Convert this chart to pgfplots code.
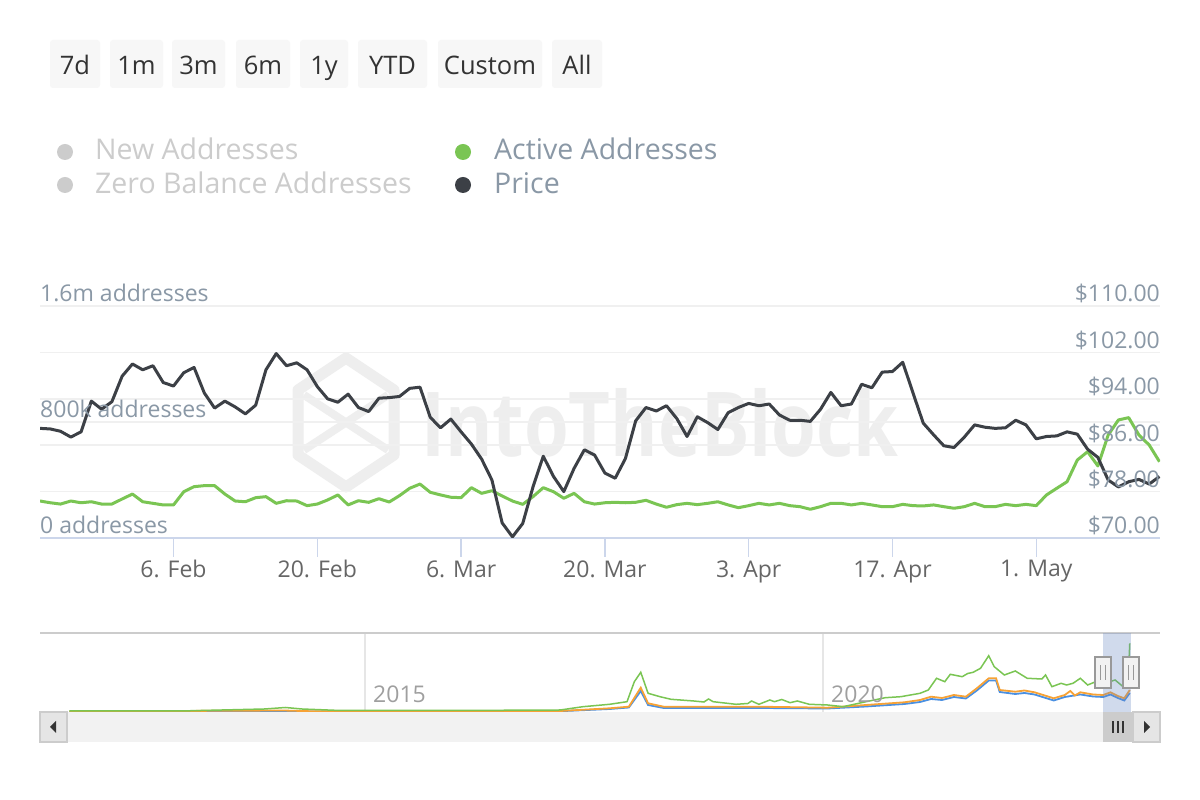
\documentclass[border=0pt]{standalone}
\usepackage{pgfplots}
\usepackage{pgfplotstable}
\pgfplotsset{compat=1.18}
\usepackage{fontspec}
\setmainfont{Open Sans}

\definecolor{cgreen}{HTML}{7AC553}
\definecolor{cprice}{HTML}{3C4046}
\definecolor{cgrid}{HTML}{F0F0F0}
\definecolor{caxis}{HTML}{CCD6EB}
\definecolor{clab}{HTML}{8A98A6}
\definecolor{cxlab}{HTML}{666666}
\definecolor{cbtn}{HTML}{F7F7F7}
\definecolor{cbtntext}{HTML}{333333}
\definecolor{chidden}{HTML}{CCCCCC}
\definecolor{cwater}{HTML}{EEEEEE}
\definecolor{cnavline}{HTML}{CCCCCC}
\definecolor{cnavgrid}{HTML}{E6E6E6}
\definecolor{cscroll}{HTML}{F2F2F2}
\definecolor{cmask}{HTML}{6685C2}
\definecolor{corange}{HTML}{F7A235}
\definecolor{cblue}{HTML}{4A90E2}

\newcommand{\axfont}{\fontsize{23bp}{27bp}\selectfont}
\newcommand{\btnfont}{\fontsize{25.5bp}{30bp}\selectfont}
\newcommand{\legfont}{\fontsize{28.5bp}{33bp}\selectfont}

% day of year 2023, price in $, active addresses in thousands
\pgfplotstableread{
day price active
24 88.9 255
25 88.8 243
26 88.4 234
27 87.4 255
28 88.3 243
29 93.6 250
30 92.2 234
31 93.5 234
32 97.9 269
33 100.0 303
34 99.0 250
35 99.7 239
36 96.8 228
37 96.2 228
38 98.5 319
39 99.4 354
40 95.0 361
41 92.4 361
42 93.6 303
43 92.6 255
44 91.4 250
45 92.9 278
46 99.0 285
47 101.8 239
48 99.7 257
49 100.2 255
50 99.0 223
51 96.1 234
52 94.0 262
53 93.4 297
54 94.8 228
55 92.5 257
56 91.8 246
57 94.1 271
58 94.2 248
59 94.4 292
60 95.8 343
61 96.0 372
62 90.8 315
63 89.0 297
64 90.5 281
65 88.3 278
66 86.2 347
67 83.6 308
68 80.0 326
69 72.6 290
70 70.2 255
71 72.5 232
72 78.8 285
73 84.1 347
74 80.6 319
75 78.0 274
76 82.0 308
77 85.2 250
78 84.3 234
79 81.2 243
80 80.3 246
81 83.7 243
82 90.2 246
83 92.5 260
84 91.9 234
85 92.8 212
86 90.6 230
87 87.5 239
88 90.9 230
89 89.9 239
90 88.7 250
91 91.6 228
92 92.5 209
93 93.2 223
94 92.8 239
95 93.1 228
96 91.2 239
97 90.3 223
98 90.3 216
99 90.1 198
100 92.2 216
101 95.1 239
102 92.8 239
103 93.1 228
104 96.5 239
105 95.9 228
106 98.6 216
107 98.7 216
108 100.3 232
109 95.0 223
110 89.8 221
111 87.8 228
112 85.9 216
113 85.6 205
114 87.4 216
115 89.5 239
116 89.1 216
117 88.9 216
118 89.0 232
119 90.3 223
120 89.5 232
121 87.1 223
122 87.5 297
123 87.6 343
124 88.3 388
125 87.9 538
126 85.3 595
127 83.9 497
128 80.0 710
129 78.8 814
130 79.7 830
131 80.1 710
132 79.3 641
133 80.6 526
}\maindata

\begin{document}
\begin{tikzpicture}[x=1bp,y=1bp]
\fill[white] (0,0) rectangle (1200,800);

% range buttons
\foreach \a/\b/\t in {50/100/7d,110/163/1m,172/225/3m,236/290/6m,300/348/1y,358/427/YTD,438/542/Custom,552/602/All}{
  \fill[cbtn, rounded corners=3bp] (\a,712) rectangle (\b,760);
  \node[anchor=base, text=cbtntext, font=\btnfont, inner sep=0pt] at ({(\a+\b)/2},725) {\t};
}

% legend
\fill[chidden] (65,648) circle (8);
\fill[chidden] (65,615) circle (8);
\fill[cgreen] (463,648) circle (8);
\fill[cprice] (463,615) circle (8);
\node[anchor=base west, text=chidden, font=\legfont, inner sep=0pt] at (95,640) {New Addresses};
\node[anchor=base west, text=chidden, font=\legfont, inner sep=0pt] at (95,606) {Zero Balance Addresses};
\node[anchor=base west, text=clab, font=\legfont, inner sep=0pt] at (494,640) {Active Addresses};
\node[anchor=base west, text=clab, font=\legfont, inner sep=0pt] at (494,606) {Price};

% watermark
\draw[cwater, line width=11bp, line join=round] (346,442) -- (394,410) -- (394,345) -- (346,313) -- (298,345) -- (298,410) -- cycle;
\draw[cwater, line width=8bp] (304,405) -- (388,350) (388,405) -- (304,350);
\node[text=cwater, inner sep=0pt] at (660,377) {\resizebox{477bp}{68bp}{\bfseries IntoTheBlock}};

% main chart, left scale (addresses)
\begin{axis}[
  at={(40bp,262bp)}, anchor=south west,
  width=1120bp, height=232bp, scale only axis,
  xmin=24, xmax=133.05, ymin=0, ymax=1600,
  axis x line*=bottom, axis y line*=left,
  y axis line style={draw=none},
  x axis line style={draw=caxis, line width=1.5bp},
  xtick={37,51,65,79,93,107,121},
  xticklabels={6. Feb,20. Feb,6. Mar,20. Mar,3. Apr,17. Apr,1. May},
  tick align=outside, major tick length=19bp,
  xtick style={draw=caxis, line width=1.5bp},
  xticklabel style={font=\axfont, text=cxlab},
  ytick={0,320,640,800,960,1280,1600}, yticklabels={},
  ytick style={draw=none},
  ymajorgrids, major grid style={draw=cgrid, line width=1.5bp},
]
\addplot[cgreen, line width=3bp, line join=round] table[x=day, y=active] {\maindata};
\end{axis}

% main chart, right scale (price)
\begin{axis}[
  at={(40bp,262bp)}, anchor=south west,
  width=1120bp, height=232bp, scale only axis,
  xmin=24, xmax=133.05, ymin=70, ymax=110,
  axis lines=none,
]
\addplot[cprice, line width=3bp, line join=round] table[x=day, y=price] {\maindata};
\end{axis}

% axis labels inside the plot
\begin{scope}[every node/.style={font=\axfont, text=clab, inner sep=0pt}]
\node[anchor=base west] at (40,498) {1.6m addresses};
\node[anchor=base west] at (40,382) {800k addresses};
\node[anchor=base west] at (40,266) {0 addresses};
\node[anchor=base east] at (1160,498) {\$110.00};
\node[anchor=base east] at (1160,451.6) {\$102.00};
\node[anchor=base east] at (1160,405.2) {\$94.00};
\node[anchor=base east] at (1160,358.8) {\$86.00};
\node[anchor=base east] at (1160,312.4) {\$78.00};
\node[anchor=base east] at (1160,266) {\$70.00};
\end{scope}

% navigator
\begin{axis}[
  at={(40bp,88bp)}, anchor=south west,
  width=1120bp, height=79bp, scale only axis,
  xmin=2011.45, xmax=2023.68, ymin=0, ymax=79,
  axis line style={draw=none}, tick style={draw=none},
  xtick={2015,2020}, xticklabels={}, ytick=\empty,
  xmajorgrids, major grid style={draw=cnavgrid, line width=1.5bp},
]
\addplot[cblue, line width=1.8bp] coordinates {
(2011.77,0.3) (2017.13,0.8) (2017.67,3) (2017.88,4.5) (2018.01,21) (2018.09,7)
(2018.26,4) (2018.80,4) (2019.30,4) (2020.05,3.5) (2020.47,5.5) (2020.89,8)
(2021.06,10) (2021.18,13) (2021.30,12) (2021.43,15) (2021.56,13.5) (2021.68,21.5) (2021.81,31.5)
(2021.89,31.5) (2021.93,20) (2022.10,18) (2022.20,19) (2022.31,17.5) (2022.52,11.5) (2022.64,15)
(2022.81,17.5) (2022.95,15.5) (2023.06,15) (2023.14,17.5) (2023.22,14) (2023.29,11.5) (2023.35,19)};
\addplot[corange, line width=1.8bp] coordinates {
(2011.77,0.5) (2014.10,1.5) (2014.40,0.8) (2017.13,1) (2017.67,3.7) (2017.88,5.3)
(2018.01,24.3) (2018.09,8.7) (2018.26,5.3) (2018.80,5.3) (2019.30,5.3) (2020.05,4.3)
(2020.47,7) (2020.89,9.7) (2021.06,12) (2021.18,15.3) (2021.30,14) (2021.43,17) (2021.56,15.3)
(2021.68,23.7) (2021.81,33.7) (2021.89,33.7) (2021.93,22) (2022.10,20.3) (2022.20,21.5) (2022.31,19.7)
(2022.52,13.7) (2022.64,17) (2022.70,21) (2022.75,16.5) (2022.81,19.7) (2022.95,17.5) (2023.06,17)
(2023.14,19.7) (2023.22,16) (2023.29,13.7) (2023.35,22)};
\addplot[cgreen, line width=1.5bp] coordinates {
(2011.77,1) (2012.98,1) (2013.90,3) (2014.13,4.5) (2014.31,3) (2014.73,1.5)
(2015.93,1.5) (2017.13,2) (2017.38,5.3) (2017.67,7.7) (2017.86,10.3) (2017.94,30.3)
(2018.01,39.7) (2018.09,18.7) (2018.22,15.3) (2018.34,12.7) (2018.59,11) (2018.70,10)
(2018.75,13) (2018.80,10.3) (2019.05,7.7) (2019.18,8.5) (2019.22,11) (2019.30,7.7)
(2019.42,12) (2019.47,10.3) (2019.55,12.5) (2019.64,9.3) (2019.72,11) (2019.85,7.7)
(2020.05,7) (2020.22,5.3) (2020.47,10.3) (2020.68,14.3) (2020.85,15.3) (2021.06,18.7)
(2021.15,22) (2021.24,33.7) (2021.33,30.3) (2021.39,37.7) (2021.52,35.3) (2021.58,38.5)
(2021.64,39.7) (2021.72,43.7) (2021.81,56.3) (2021.87,45.3) (2021.98,37) (2022.10,41)
(2022.23,33.7) (2022.39,33) (2022.43,37) (2022.50,25.3) (2022.60,28.7) (2022.66,27)
(2022.73,28.7) (2022.81,33.7) (2022.89,27) (2022.97,30) (2023.06,27) (2023.12,30)
(2023.19,32) (2023.29,24.3) (2023.33,27) (2023.35,68.7)};
\end{axis}

\draw[cnavline, line width=2bp] (40,167) -- (1160,167);
\node[anchor=base west, text=gray!75, font=\axfont, inner sep=0pt] at (373,97) {2015};
\node[anchor=base west, text=gray!75, font=\axfont, inner sep=0pt] at (831,97) {2020};
\fill[cmask, opacity=0.3] (1103,88) rectangle (1131,167);

% scrollbar
\fill[cscroll] (40,58) rectangle (1160,88);
\filldraw[fill=black!10, draw=cnavline, line width=1.5bp] (40,58) rectangle (67,88);
\filldraw[fill=black!10, draw=cnavline, line width=1.5bp] (1133,58) rectangle (1160,88);
\fill[cnavline] (1103,58) rectangle (1133,88);
\fill[cbtntext] (50,73) -- (56,79) -- (56,67) -- cycle;
\fill[cbtntext] (1150,73) -- (1144,79) -- (1144,67) -- cycle;
\draw[cbtntext, line width=2bp] (1113,67) -- (1113,79) (1118,67) -- (1118,79) (1123,67) -- (1123,79);

% navigator handles
\foreach \h in {1103,1131}{
  \filldraw[fill=cscroll, draw=gray!80, line width=1.5bp] (\h-8,112) rectangle (\h+8,143);
  \draw[gray!80, line width=1.5bp] (\h-2.5,120) -- (\h-2.5,135) (\h+2.5,120) -- (\h+2.5,135);
}
\end{tikzpicture}
\end{document}
